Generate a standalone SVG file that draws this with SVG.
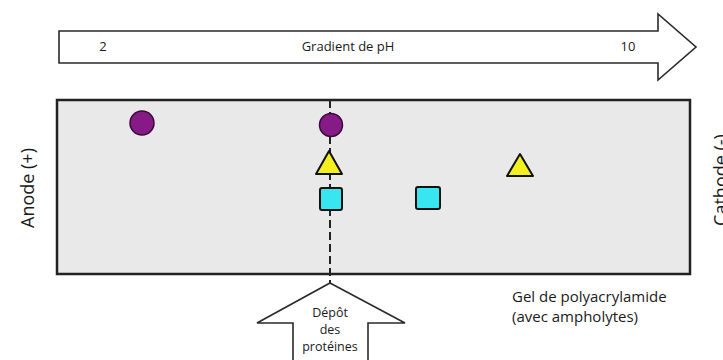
<svg xmlns="http://www.w3.org/2000/svg" width="723" height="360" viewBox="0 0 723 360">
<style>
.t{font-family:"Open Sans","Liberation Sans",sans-serif;fill:#1a1a1a}
.arrow{fill:#fff;stroke:#2a2a2a;stroke-width:1.6;stroke-linejoin:miter}
.circ{fill:#861a86;stroke:#3a0a3a;stroke-width:1.5}
.tri{fill:#f4ef1e;stroke:#111;stroke-width:2;stroke-linejoin:round}
.sq{fill:#38e6f0;stroke:#111;stroke-width:2}
</style>
<rect width="723" height="360" fill="#fff"/>
<g id="ph-gradient">
<polygon class="arrow" points="59,31 658,31 658,14 696,47 658,80 658,63 59,63"/>
<text class="t" x="103" y="51" font-size="13" text-anchor="middle">2</text>
<text class="t" x="348" y="51" font-size="13" text-anchor="middle">Gradient de pH</text>
<text class="t" x="628" y="51" font-size="13" text-anchor="middle">10</text>
</g>
<g id="gel">
<rect x="57" y="100" width="633" height="174" fill="#e9e9e9" stroke="#222" stroke-width="2.5"/>
</g>
<g id="connectors">
<line x1="330" y1="100" x2="330" y2="283" stroke="#222" stroke-width="2" stroke-dasharray="8,4"/>
</g>
<g id="depot">
<polygon class="arrow" points="330,283 405,323 368,323 368,362 293,362 293,323 257,323" stroke-width="2"/>
<text class="t" x="330" y="317" font-size="12.5" text-anchor="middle">Dépôt</text>
<text class="t" x="330" y="334" font-size="12.5" text-anchor="middle">des</text>
<text class="t" x="330" y="351" font-size="12.5" text-anchor="middle">protéines</text>
</g>
<g id="circle-left"><circle class="circ" cx="142" cy="123" r="12"/></g>
<g id="circle-mid"><circle class="circ" cx="331" cy="125" r="11.5"/></g>
<g id="triangle-mid"><polygon class="tri" points="329,151 342,174 316,174"/></g>
<g id="square-mid"><rect class="sq" x="320" y="188" width="22" height="22" rx="2"/></g>
<g id="square-right"><rect class="sq" x="416" y="187" width="24" height="22" rx="2"/></g>
<g id="triangle-right"><polygon class="tri" points="520,154 533,176 507,176"/></g>
<g id="labels">
<text class="t" transform="translate(34,188) rotate(-90)" font-size="18" text-anchor="middle">Anode (+)</text>
<text class="t" transform="translate(727,180) rotate(-90)" font-size="18" text-anchor="middle">Cathode (-)</text>
<text class="t" x="512" y="302" font-size="15">Gel de polyacrylamide</text>
<text class="t" x="512" y="322" font-size="15">(avec ampholytes)</text>
</g>
</svg>
